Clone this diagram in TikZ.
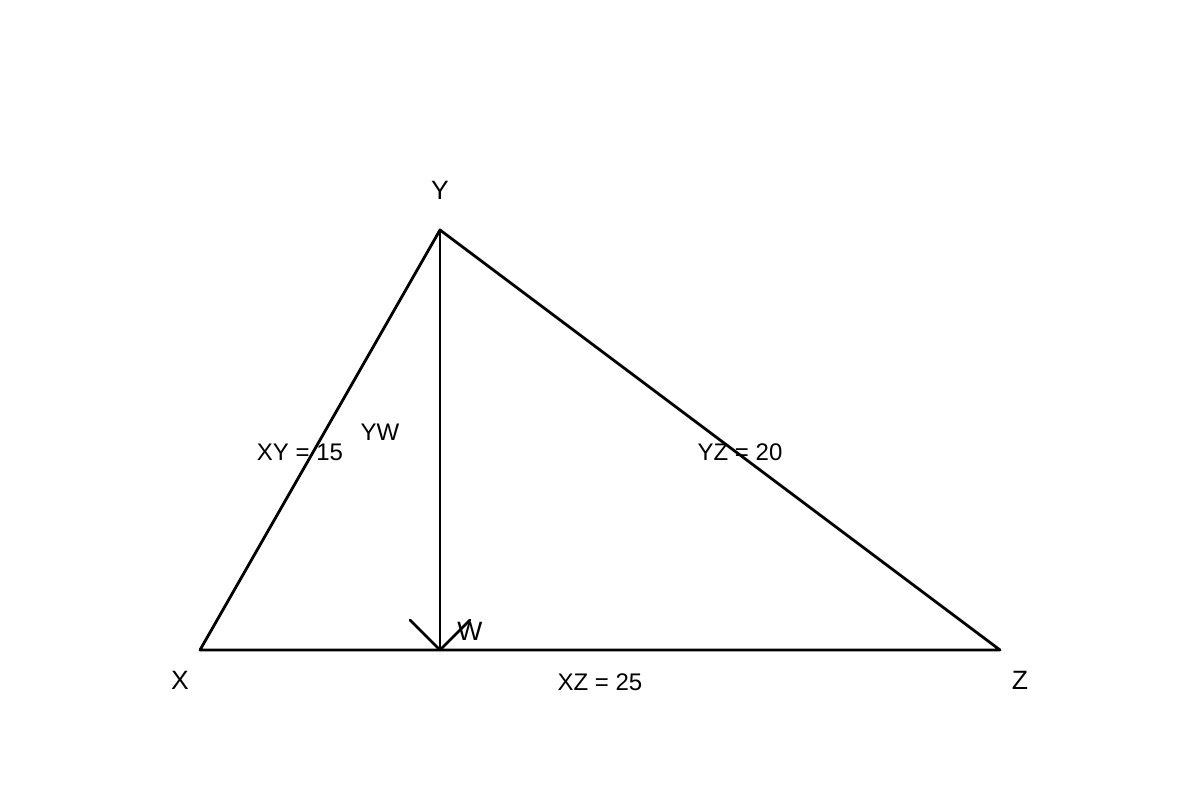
\documentclass[tikz,border=0pt]{standalone}
\usepackage{fontspec}
\setmainfont{Liberation Sans}
\begin{document}
\begin{tikzpicture}[x=1pt,y=-1pt,
  edge/.style={line width=2.8pt,line cap=round,line join=round},
  vlabel/.style={font=\fontsize{26.5}{31}\selectfont,inner sep=0pt},
  slabel/.style={font=\fontsize{24}{28}\selectfont,inner sep=0pt}]
\useasboundingbox[fill=white] (0,0) rectangle (1200,800);
\coordinate (X) at (200,650);
\coordinate (Y) at (440,230);
\coordinate (Z) at (1000,650);
\coordinate (W) at (440,650);
\coordinate (Ml) at (410,620);
\coordinate (Mr) at (470,620);
\draw[edge] (X) -- (Y) -- (Z) -- cycle;
\draw[edge] (Y) -- (W);
\draw[edge] (Ml) -- (W) -- (Mr);
\node[vlabel] (lY) at (440,190) {Y};
\node[vlabel] (lX) at (180,680) {X};
\node[vlabel] (lZ) at (1020,680) {Z};
\node[vlabel] (lW) at (470,631) {W};
\node[slabel] (lXY) at (300,452) {XY = 15};
\node[slabel] (lYW) at (380,432) {YW};
\node[slabel] (lYZ) at (740,452) {YZ = 20};
\node[slabel] (lXZ) at (600,682) {XZ = 25};
\end{tikzpicture}
\end{document}
